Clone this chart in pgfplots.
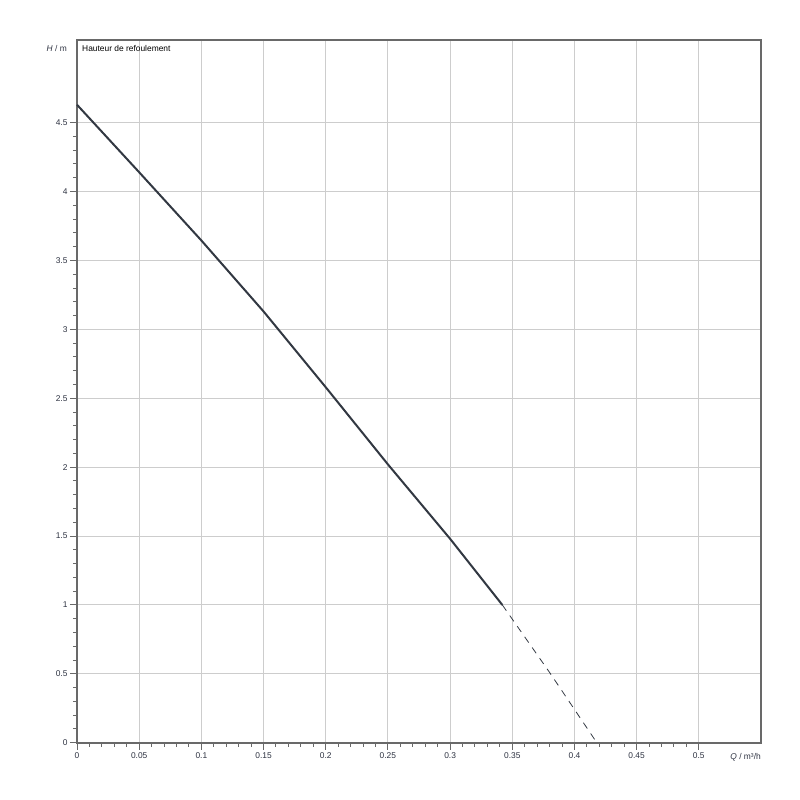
\documentclass[border=0pt]{standalone}
\usepackage{pgfplots}
\pgfplotsset{compat=1.18}
\usepackage{fontspec}
\setmainfont{Liberation Sans}
\definecolor{axgray}{RGB}{105,105,105}
\definecolor{gridgray}{RGB}{205,205,205}
\definecolor{curve}{RGB}{50,56,66}
\definecolor{txt}{RGB}{45,50,65}
\begin{document}
\begin{tikzpicture}[x=1pt,y=1pt]
\path[use as bounding box] (0,0) rectangle (800,800);
\begin{axis}[
  at={(77pt,57.3pt)}, anchor=south west,
  scale only axis, width=684pt, height=702.7pt,
  xmin=0, xmax=0.55, ymin=0, ymax=5.1,
  xtick={0,0.05,...,0.51}, ytick={0,0.5,...,4.51},
  xticklabels={0,0.05,0.1,0.15,0.2,0.25,0.3,0.35,0.4,0.45,0.5},
  yticklabels={0,0.5,1,1.5,2,2.5,3,3.5,4,4.5},
  minor x tick num=4, minor y tick num=4,
  tick align=outside, major tick length=7pt, minor tick length=4pt,
  xtick pos=bottom, ytick pos=left,
  tick style={axgray, line width=1pt},
  grid=major, major grid style={gridgray, line width=1pt},
  axis line style={axgray, line width=2pt},
  tick label style={font=\fontsize{8.4}{10}\selectfont, text=txt},
  /pgf/number format/assume math mode=true,
  xticklabel style={yshift=1pt},
  yticklabel style={xshift=1pt},
  clip=false,
]
\addplot[curve, line width=2pt] coordinates {
 (0,4.63) (0.05,4.14) (0.1,3.645) (0.15,3.13) (0.2,2.58) (0.25,2.02) (0.3,1.48) (0.342,1.0)
};
\addplot[curve, line width=0.8pt, dash pattern=on 7pt off 6pt] coordinates {
 (0.342,1.0) (0.38,0.51) (0.418,0.0)
};
\node[anchor=north west, font=\fontsize{8.4}{10}\selectfont, text=black, inner sep=0pt] at (rel axis cs:0,1) [xshift=5pt, yshift=-5pt] {Hauteur de refoulement};
\node[anchor=east, font=\fontsize{8.4}{10}\selectfont, text=txt, inner sep=0pt] at (axis cs:0,5.0) [xshift=-10pt, yshift=5pt] {\textit{H} / m};
\node[anchor=north east, font=\fontsize{8.4}{10}\selectfont, text=txt, inner sep=0pt] at (rel axis cs:1,0) [yshift=-11pt] {\textit{Q} / m³/h};
\end{axis}
\end{tikzpicture}
\end{document}
